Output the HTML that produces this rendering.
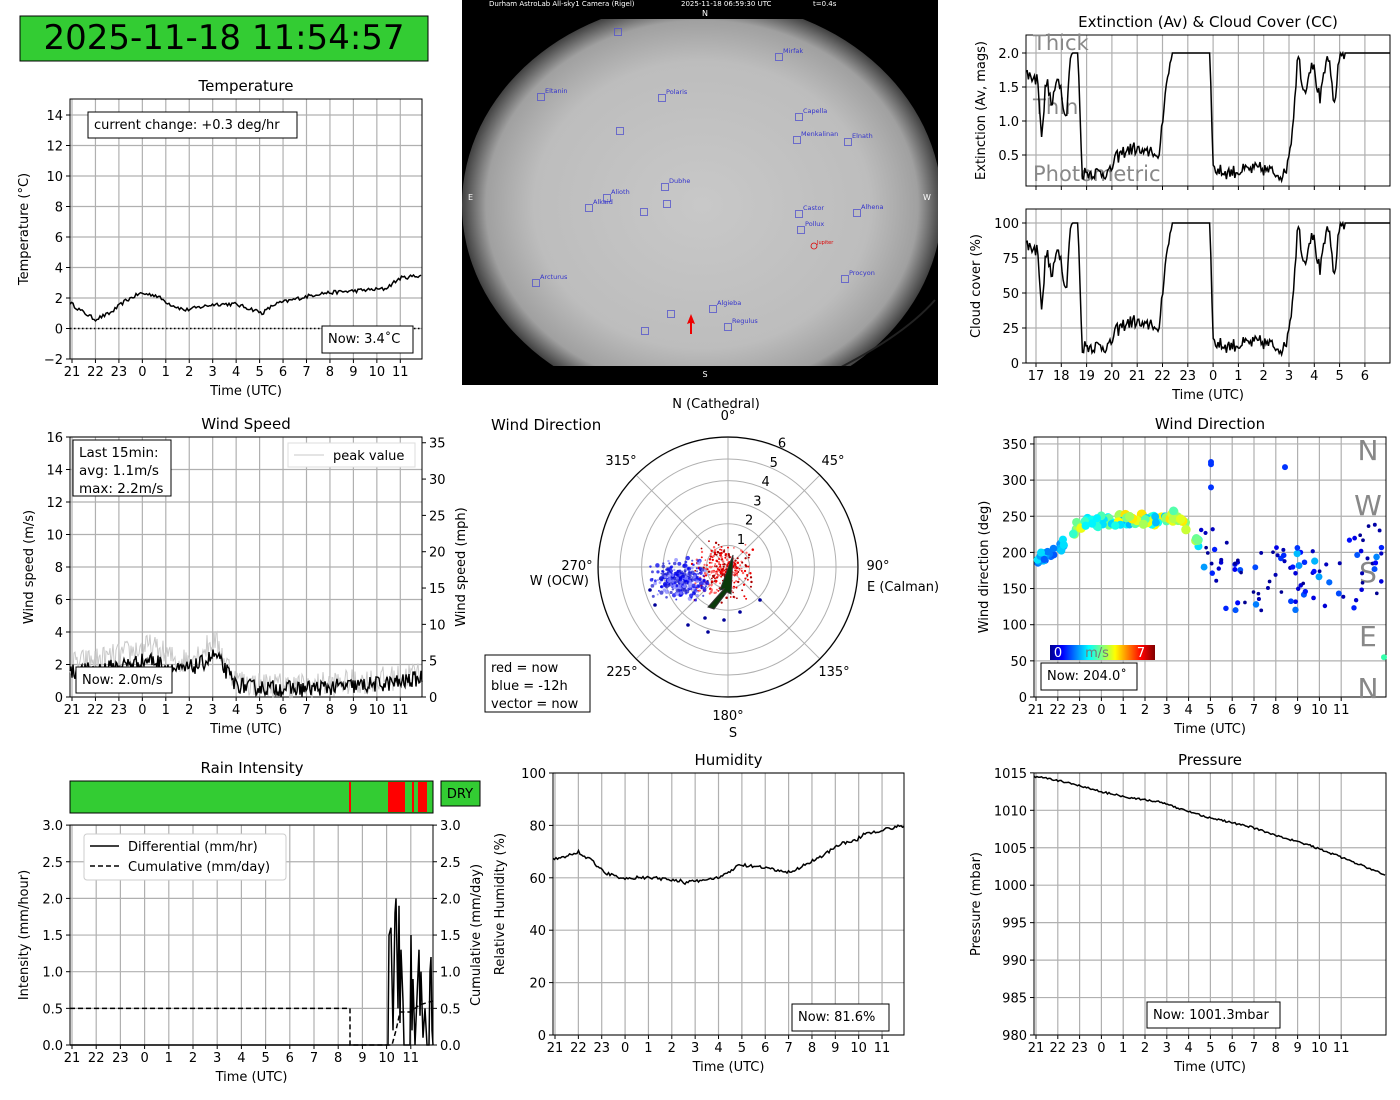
<!DOCTYPE html>
<html><head><meta charset="utf-8"><style>
html,body{margin:0;padding:0;background:#fff;}
svg{display:block;font-family:"DejaVu Sans","Liberation Sans",sans-serif;}
</style></head><body>
<svg id="s" width="1400" height="1100" xmlns="http://www.w3.org/2000/svg">
<defs>
<radialGradient id="sky" cx="0.5" cy="0.5" r="0.5">
<stop offset="0" stop-color="#c8c8c8"/><stop offset="0.7" stop-color="#bdbdbd"/><stop offset="0.9" stop-color="#a0a0a0"/><stop offset="1" stop-color="#404040"/>
</radialGradient>
<linearGradient id="jet" x1="0" x2="1">
<stop offset="0" stop-color="#00008f"/><stop offset="0.12" stop-color="#0000ff"/><stop offset="0.37" stop-color="#00ffff"/><stop offset="0.62" stop-color="#ffff00"/><stop offset="0.87" stop-color="#ff0000"/><stop offset="1" stop-color="#800000"/>
</linearGradient>
<clipPath id="skyclip"><rect x="462" y="0" width="476" height="385"/></clipPath>
</defs>
<rect x="20" y="16" width="408" height="45" fill="#33cc33" stroke="#000" stroke-width="1"/>
<text x="224" y="49" font-size="34" text-anchor="middle">2025-11-18 11:54:57</text>
<!-- sky camera -->
<rect x="462" y="0" width="476" height="385" fill="#000"/>
<g clip-path="url(#skyclip)">
<ellipse cx="702" cy="205" rx="240" ry="205" fill="url(#sky)"/>
<path d="M815,380 Q900,340 935,300" fill="none" stroke="#222" stroke-width="2"/>
</g>
<rect x="462" y="0" width="476" height="19" fill="#000"/>
<rect x="462" y="366" width="476" height="19" fill="#000"/>
<text x="489" y="6" font-size="7" fill="#fff">Durham AstroLab All-sky1 Camera (Rigel)</text>
<text x="681" y="6" font-size="7" fill="#fff">2025-11-18 06:59:30 UTC</text>
<text x="813" y="6" font-size="7" fill="#fff">t=0.4s</text>
<text x="705" y="16" font-size="8" fill="#fff" text-anchor="middle">N</text>
<text x="705" y="377" font-size="8" fill="#fff" text-anchor="middle">S</text>
<text x="468" y="200" font-size="8" fill="#fff">E</text>
<text x="923" y="200" font-size="8" fill="#fff">W</text>
<g id="stars" fill="none" stroke="#5555cc" stroke-width="0.8" font-size="6.5"></g>
<g id="g"></g>
</svg>
<script>
var S=document.getElementById('g');var NS='http://www.w3.org/2000/svg';
function el(t,a,tx){var e=document.createElementNS(NS,t);for(var k in a)e.setAttribute(k,a[k]);if(tx!==undefined)e.textContent=tx;S.appendChild(e);return e;}
var seed=12345;function rnd(){seed=(seed*16807)%2147483647;return (seed-1)/2147483646;}
function txt(x,y,s,o){o=o||{};var a={x:x,y:y,'font-size':o.fs||13,'text-anchor':o.a||'middle',fill:o.fill||'#000'};if(o.rot)a.transform='rotate(-90 '+x+' '+y+')';return el('text',a,s);}
function axes(o){
 var gc='#b0b0b0';
 (o.xt||[]).forEach(function(t){if(o.grid!==false)el('line',{x1:t[0],x2:t[0],y1:o.y0,y2:o.y1,stroke:gc,'stroke-width':1.2});el('line',{x1:t[0],x2:t[0],y1:o.y1,y2:o.y1+4,stroke:'#000'});txt(t[0],o.y1+17,t[1]);});
 (o.yt||[]).forEach(function(t){if(o.grid!==false)el('line',{x1:o.x0,x2:o.x1,y1:t[0],y2:t[0],stroke:gc,'stroke-width':1.2});el('line',{x1:o.x0-4,x2:o.x0,y1:t[0],y2:t[0],stroke:'#000'});txt(o.x0-7,t[0]+5,t[1],{a:'end'});});
 (o.yt2||[]).forEach(function(t){el('line',{x1:o.x1,x2:o.x1+4,y1:t[0],y2:t[0],stroke:'#000'});txt(o.x1+7,t[0]+5,t[1],{a:'start'});});
 el('rect',{x:o.x0,y:o.y0,width:o.x1-o.x0,height:o.y1-o.y0,fill:'none',stroke:'#000','stroke-width':1});
 if(o.title)txt((o.x0+o.x1)/2,o.y0-8,o.title,{fs:15});
 if(o.xl)txt((o.x0+o.x1)/2,o.y1+36,o.xl);
 if(o.yl)txt(o.ylx,(o.y0+o.y1)/2,o.yl,{rot:1});
 if(o.yl2)txt(o.yl2x,(o.y0+o.y1)/2,o.yl2,{rot:1});
}
function hours(x0,dx,start,n){var r=[];for(var i=0;i<n;i++){var h=(start+i)%24;r.push([x0+i*dx,''+h]);}return r;}
function interp(kp,x){for(var i=0;i<kp.length-1;i++){if(x<=kp[i+1][0]){var t=(x-kp[i][0])/(kp[i+1][0]-kp[i][0]);return kp[i][1]+t*(kp[i+1][1]-kp[i][1]);}}return kp[kp.length-1][1];}
function line(kp,x0,x1,step,noise,fy,st){var p=[];for(var x=x0;x<=x1;x+=step){p.push(x.toFixed(1)+','+fy(interp(kp,x)+(rnd()-0.5)*noise).toFixed(1));}var a={points:p.join(' '),fill:'none',stroke:'#000','stroke-width':1.5};for(var k in st)a[k]=st[k];return el('polyline',a);}
function box(x,y,w,h,lines,fs){el('rect',{x:x,y:y,width:w,height:h,fill:'#fff',stroke:'#000'});lines.forEach(function(l,i){txt(x+6,y+17+i*18,l,{a:'start',fs:fs||13});});}

// Temperature
var tY=function(v){return 328.5-v*15.25;};
var yt=[];for(var v=-2;v<=14;v+=2)yt.push([tY(v),v<0?'\u2212'+(-v):''+v]);
axes({x0:70,y0:99,x1:422,y1:359,xt:hours(72,23.45,21,15),yt:yt,title:'Temperature',xl:'Time (UTC)',yl:'Temperature (\u00b0C)',ylx:28});
el('line',{x1:70,x2:422,y1:tY(0),y2:tY(0),stroke:'#000','stroke-dasharray':'1.5,2.5','stroke-width':1.5});
line([[70,1.7],[80,1.2],[95,0.6],[110,1.0],[125,1.8],[140,2.3],[155,2.2],[170,1.6],[185,1.2],[200,1.4],[215,1.6],[235,1.6],[255,1.2],[262,1.0],[275,1.6],[300,2.0],[320,2.3],[340,2.4],[360,2.5],[385,2.6],[400,3.3],[422,3.5]],70,422,1.5,0.25,tY);
box(88,112,209,26,['current change: +0.3 deg/hr']);
box(322,326,91,27,['Now: 3.4\u02daC']);

// Extinction
var eY=function(v){return 189-v*68;};
axes({x0:1026,y0:35,x1:1390,y1:186,xt:hours(1036,25.3,17,14).map(function(t){return [t[0],''];}),yt:[[eY(0.5),'0.5'],[eY(1),'1.0'],[eY(1.5),'1.5'],[eY(2),'2.0']],title:'Extinction (Av) & Cloud Cover (CC)',yl:'Extinction (Av, mags)',ylx:985});
txt(1033,50,'Thick',{a:'start',fs:21,fill:'#888'});txt(1033,114,'Thin',{a:'start',fs:21,fill:'#888'});txt(1033,181,'Photometric',{a:'start',fs:21,fill:'#888'});
var cc=[[1026,85],[1038,80],[1042,35],[1046,82],[1052,60],[1058,85],[1062,70],[1066,50],[1070,95],[1072,100],[1078,100],[1082,12],[1110,12],[1115,22],[1125,28],[1135,30],[1145,25],[1152,30],[1158,18],[1165,70],[1172,100],[1210,100],[1213,15],[1225,12],[1260,15],[1285,10],[1292,40],[1298,100],[1304,70],[1312,95],[1320,65],[1328,100],[1334,60],[1340,100],[1345,100],[1390,100]];
var nz=function(x){return (x>1082&&x<1172)||(x>1213&&x<1345)||x<1070?10:0;};
(function(){var p1=[],p2=[];for(var x=1026;x<=1390;x+=1.2){var c=interp(cc,x)+(rnd()-0.5)*nz(x);c=Math.max(5,Math.min(100,c));p2.push(x.toFixed(1)+','+(363-c*1.4).toFixed(1));var e=Math.min(2,c*0.02);p1.push(x.toFixed(1)+','+eY(e).toFixed(1));}
el('polyline',{points:p1.join(' '),fill:'none',stroke:'#000','stroke-width':1.5});
var cy=function(v){return 363-v*1.4;};
axes({x0:1026,y0:209,x1:1390,y1:363,xt:hours(1036,25.3,17,14),yt:[[cy(0),'0'],[cy(25),'25'],[cy(50),'50'],[cy(75),'75'],[cy(100),'100']],xl:'Time (UTC)',yl:'Cloud cover (%)',ylx:980});
el('polyline',{points:p2.join(' '),fill:'none',stroke:'#000','stroke-width':1.5});})();

// Wind speed
var wY=function(v){return 697-v*16.25;};
yt=[];for(v=0;v<=16;v+=2)yt.push([wY(v),''+v]);
var yt2=[];for(v=0;v<=35;v+=5)yt2.push([wY(v*0.44704),''+v]);
axes({x0:70,y0:437,x1:422,y1:697,xt:hours(72,23.45,21,15),yt:yt,yt2:yt2,title:'Wind Speed',xl:'Time (UTC)',yl:'Wind speed (m/s)',ylx:33,yl2:'Wind speed (mph)',yl2x:465});
var wk=[[70,1.5],[110,1.8],[150,2.3],[180,1.6],[200,2.0],[215,2.6],[235,0.8],[250,0.6],[300,0.5],[330,0.6],[360,0.7],[400,0.9],[422,1.2]];
line(wk.map(function(k){return [k[0],k[1]*1.35];}),70,422,1,1.6,wY,{stroke:'#c8c8c8','stroke-width':1});
line(wk,70,422,1,1.0,wY,{'stroke-width':1.4});
el('rect',{x:288,y:443,width:127,height:24,fill:'#fff',stroke:'#ddd'});
el('line',{x1:294,x2:324,y1:455,y2:455,stroke:'#c8c8c8'});txt(333,460,'peak value',{a:'start'});
box(73,440,98,56,['Last 15min:','avg: 1.1m/s','max: 2.2m/s'],13.5);
box(76,667,96,26,['Now: 2.0m/s']);

// Polar
var cx=728,cyy=567,R=130;
for(var r=1;r<=6;r++)el('circle',{cx:cx,cy:cyy,r:r*21.6,fill:'none',stroke:'#b0b0b0'});
for(var a=0;a<360;a+=45){var t=a*Math.PI/180;el('line',{x1:cx,y1:cyy,x2:cx+R*Math.sin(t),y2:cyy-R*Math.cos(t),stroke:'#b0b0b0'});}
el('circle',{cx:cx,cy:cyy,r:R,fill:'none',stroke:'#000','stroke-width':1.2});
[['0\u00b0',728,420],['45\u00b0',833,465],['90\u00b0',878,570],['135\u00b0',834,676],['180\u00b0',728,720],['225\u00b0',622,676],['270\u00b0',577,570],['315\u00b0',621,465]].forEach(function(l){txt(l[1],l[2],l[0]);});
txt(716,408,'N (Cathedral)');txt(733,737,'S');txt(867,591,'E (Calman)',{a:'start'});txt(589,585,'W (OCW)',{a:'end'});
['1','2','3','4','5','6'].forEach(function(s,i){txt(741+i*8.2,544-i*19.3,s);});
txt(491,430,'Wind Direction',{a:'start',fs:15});
for(var i=0;i<300;i++){var px=cx-5+(rnd()+rnd()-1)*32,py=cyy+5+(rnd()+rnd()-1)*32;var col=rnd()<0.3?'#aa0000':(rnd()<0.5?'#ff6666':'#ee0000');el('circle',{cx:px,cy:py,r:0.8+rnd()*0.5,fill:col});}
for(i=0;i<280;i++){var px=cx-48+(rnd()+rnd()-1)*32,py=cyy+12+(rnd()+rnd()-1)*22;var col=rnd()<0.4?'#0000ee':(rnd()<0.5?'#8888ff':'#2222cc');el('circle',{cx:px,cy:py,r:0.9+rnd()*1.4,fill:col,opacity:0.75});}
[[688,625],[705,618],[724,620],[740,612],[760,600],[655,605],[650,590],[708,632]].forEach(function(p){el('circle',{cx:p[0],cy:p[1],r:1.8,fill:'#000099'});});
el('polygon',{points:'733,555 720,590 724,589 708,607 714,609 727,592 731,594',fill:'#0a3a0a',stroke:'#333','stroke-width':1});
box(485,655,105,57,['red = now','blue = -12h','vector = now']);

// Wind direction scatter
var dY=function(v){return 697-v*0.723;};
yt=[];for(v=0;v<=350;v+=50)yt.push([dY(v),''+v]);
axes({x0:1034,y0:437,x1:1386,y1:697,xt:hours(1036,21.8,21,15),yt:yt,title:'Wind Direction',xl:'Time (UTC)',yl:'Wind direction (deg)',ylx:988});
[['N',450],['W',505],['S',572],['E',636],['N',688]].forEach(function(l){txt(1368,l[1]+10,l[0],{fs:28,fill:'#888'});});
var dk=[[1034,190],[1060,205],[1080,240],[1110,245],[1150,245],[1175,250],[1190,235],[1200,210],[1220,175],[1250,165],[1280,175],[1320,160],[1360,190],[1386,205]];
function jet(v){var s=[[0,[0,0,143]],[0.12,[0,0,255]],[0.37,[0,255,255]],[0.62,[255,255,0]],[0.87,[255,0,0]],[1,[128,0,0]]];for(var i=0;i<s.length-1;i++)if(v<=s[i+1][0]){var t=(v-s[i][0])/(s[i+1][0]-s[i][0]);var c=s[i][1].map(function(q,j){return Math.round(q+t*(s[i+1][1][j]-q));});return 'rgb('+c.join(',')+')';}return 'rgb(128,0,0)';}
for(i=0;i<260;i++){var x=1036+rnd()*348;var early=x<1200;if(!early&&rnd()<0.35)continue;var sp=early?(x<1070?0.2+rnd()*0.15:0.3+rnd()*0.35):(rnd()*rnd()*0.35);var y=interp(dk,x)+(early?(rnd()-0.5)*16:(rnd()+rnd()-1)*70);el('circle',{cx:x,cy:dY(y),r:early?3+sp*3:1.8+sp*6,fill:jet(sp)});}
[[1211,322],[1211,325],[1285,318],[1211,290],[1384,55]].forEach(function(p){el('circle',{cx:p[0],cy:dY(p[1]),r:3,fill:p[1]<100?'#33ffaa':'#0033ff'});});
el('rect',{x:1050,y:645,width:105,height:15,fill:'url(#jet)'});
txt(1058,657,'0',{fill:'#fff'});txt(1097,657,'m/s',{fill:'#777'});txt(1141,657,'7',{fill:'#fff'});
box(1041,663,96,27,['Now: 204.0\u02da']);

// Rain
el('rect',{x:70,y:781,width:363,height:32,fill:'#33cc33',stroke:'#000'});
[[349,2],[388,3],[391,14],[404,1],[412,2],[418,9]].forEach(function(r){el('rect',{x:r[0],y:782,width:r[1],height:30,fill:'#ff0000'});});
el('rect',{x:441,y:781,width:39,height:25,fill:'#33cc33',stroke:'#000'});txt(460,798,'DRY');
var rY=function(v){return 1045-v*73.3;};
yt=[];for(v=0;v<=3;v+=0.5)yt.push([rY(v),v.toFixed(1)]);
axes({x0:70,y0:825,x1:433,y1:1045,xt:hours(72,24.2,21,15),yt:yt,yt2:yt,title:'',xl:'Time (UTC)',yl:'Intensity (mm/hour)',ylx:28,yl2:'Cumulative (mm/day)',yl2x:480});
txt(252,773,'Rain Intensity',{fs:15});
el('polyline',{points:'70,'+rY(0.5)+' 350,'+rY(0.5)+' 350,'+rY(0)+' 392,'+rY(0)+' 396,'+rY(0.2)+' 400,'+rY(0.45)+' 410,'+rY(0.45)+' 420,'+rY(0.55)+' 433,'+rY(0.6),fill:'none',stroke:'#000','stroke-width':1.5,'stroke-dasharray':'5,3'});
var rp=['70,1045','388,1045'];[[389,1.5],[391,1.6],[393,0.2],[395,1.8],[396,2.0],[398,0.5],[399,1.9],[400,0.3],[401,1.3],[403,0.6],[404,0],[410,0],[411,1.5],[412,0.2],[413,0.9],[415,0],[419,1.3],[420,0.4],[421,1.0],[423,0.1],[425,0.5],[427,0],[429,0],[430,1.0],[431,1.2],[432,0.2],[433,0]].forEach(function(p){rp.push(p[0]+','+rY(p[1]));});
el('polyline',{points:rp.join(' '),fill:'none',stroke:'#000','stroke-width':1.5});
el('rect',{x:84,y:834,width:202,height:46,fill:'#fff',stroke:'#ccc',rx:3});
el('line',{x1:90,x2:119,y1:846,y2:846,stroke:'#000','stroke-width':1.5});txt(128,851,'Differential (mm/hr)',{a:'start'});
el('line',{x1:90,x2:119,y1:866,y2:866,stroke:'#000','stroke-width':1.5,'stroke-dasharray':'5,3'});txt(128,871,'Cumulative (mm/day)',{a:'start'});

// Humidity
var hY=function(v){return 1035-v*2.62;};
yt=[];for(v=0;v<=100;v+=20)yt.push([hY(v),''+v]);
axes({x0:553,y0:773,x1:904,y1:1035,xt:hours(555,23.36,21,15),yt:yt,title:'Humidity',xl:'Time (UTC)',yl:'Relative Humidity (%)',ylx:504});
line([[553,67],[565,68],[578,70],[590,67],[605,62],[620,60],[650,60],[680,59],[685,58],[700,59],[720,60],[740,65],[760,64],[775,63],[790,62],[810,66],[825,69],[840,73],[855,74],[865,77],[880,78],[904,80]],553,904,1.5,1.2,hY);
box(792,1004,97,27,['Now: 81.6%']);

// Pressure
var pY=function(v){return 1035-(v-980)*7.49;};
yt=[];for(v=980;v<=1015;v+=5)yt.push([pY(v),''+v]);
axes({x0:1034,y0:773,x1:1386,y1:1035,xt:hours(1036,21.8,21,15),yt:yt,title:'Pressure',xl:'Time (UTC)',yl:'Pressure (mbar)',ylx:980});
line([[1034,1014.5],[1050,1014.2],[1080,1013.3],[1100,1012.5],[1130,1011.7],[1160,1011.1],[1180,1010.2],[1210,1009],[1250,1007.8],[1280,1006.5],[1310,1005.3],[1340,1003.8],[1370,1002.2],[1386,1001.3]],1034,1386,1.5,0.25,pY);
box(1147,1002,133,26,['Now: 1001.3mbar']);

// stars
var G=document.getElementById('stars');
[[618,32,''],[779,57,'Mirfak'],[541,97,'Eltanin'],[662,98,'Polaris'],[620,131,''],[799,117,'Capella'],[797,140,'Menkalinan'],[848,142,'Elnath'],[665,187,'Dubhe'],[607,198,'Alioth'],[589,208,'Alkaid'],[667,204,''],[644,212,''],[799,214,'Castor'],[857,213,'Alhena'],[801,230,'Pollux'],[536,283,'Arcturus'],[845,279,'Procyon'],[713,309,'Algieba'],[728,327,'Regulus'],[671,314,''],[645,331,'']].forEach(function(s){var r=document.createElementNS(NS,'rect');r.setAttribute('x',s[0]-3.5);r.setAttribute('y',s[1]-3.5);r.setAttribute('width',7);r.setAttribute('height',7);G.appendChild(r);if(s[2]){var t=document.createElementNS(NS,'text');t.setAttribute('x',s[0]+4);t.setAttribute('y',s[1]-4);t.setAttribute('fill','#3333cc');t.setAttribute('stroke','none');t.textContent=s[2];G.appendChild(t);}});
var c=document.createElementNS(NS,'circle');c.setAttribute('cx',814);c.setAttribute('cy',246);c.setAttribute('r',3);c.setAttribute('stroke','#d00');G.appendChild(c);
var t=document.createElementNS(NS,'text');t.setAttribute('x',817);t.setAttribute('y',244);t.setAttribute('fill','#d00');t.setAttribute('stroke','none');t.setAttribute('font-size','5');t.textContent='Jupiter';G.appendChild(t);
var p=document.createElementNS(NS,'polygon');p.setAttribute('points','691,314 687,324 690,323 690,334 692,334 692,323 695,324');p.setAttribute('fill','#e00');p.setAttribute('stroke','none');G.appendChild(p);
</script>
</body></html>
